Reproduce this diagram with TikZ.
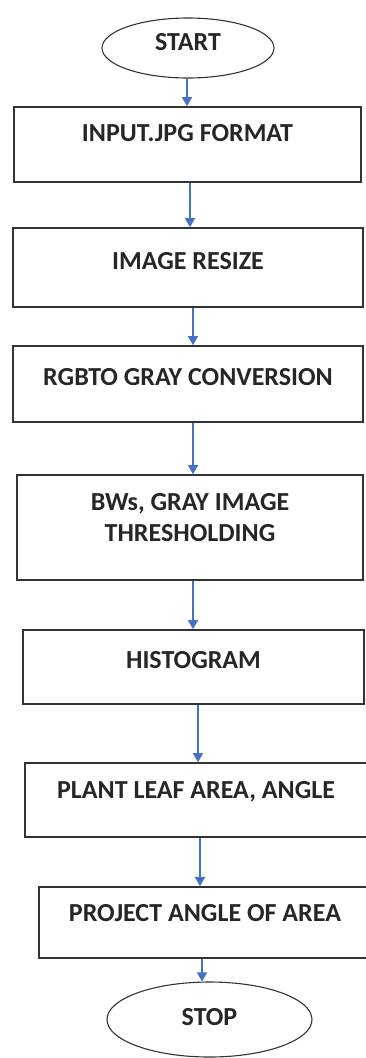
\documentclass[tikz,border=0pt]{standalone}
\usepackage{fontspec}
\setmainfont{Carlito}
\usepackage{xcolor}
\usetikzlibrary{shapes.geometric,arrows.meta}
\definecolor{flowblue}{HTML}{4472C4}

\begin{document}
\begin{tikzpicture}[x=1pt,y=-1pt,font=\fontsize{26}{31}\selectfont\bfseries,
  stepbox/.style={draw=black!80,line width=1.6pt,inner sep=0pt,align=center,
    text=black!85,text height=17pt,text depth=#1},
  stepbox/.default=20pt,
  term/.style={ellipse,draw=black!80,line width=1.1pt,inner sep=0pt,
    text=black!85,text height=17pt,text depth=#1},
  arr/.style={-{Triangle[length=9pt,width=10pt]},flowblue,line width=1.5pt}]
  \useasboundingbox (0,0) rectangle (365,1058);
  \node[term=13pt,minimum width=172pt,minimum height=60pt] (start) at (188,48) {START};
  \node[stepbox=23pt,minimum width=347pt,minimum height=75pt] (input) at (187.5,144.5) {INPUT.JPG FORMAT};
  \draw[arr] ([xshift=-1pt]start.south) -- ([xshift=-1pt]start.south |- input.north);
  \node[stepbox=13pt,minimum width=350pt,minimum height=79pt] (resize) at (188,267.5) {IMAGE RESIZE};
  \draw[arr] ([xshift=2.5pt]input.south) -- ([xshift=2.5pt]input.south |- resize.north);
  \node[stepbox=15pt,minimum width=350pt,minimum height=76pt] (gray) at (188,384) {RGBTO GRAY CONVERSION};
  \draw[arr] ([xshift=5pt]resize.south) -- ([xshift=5pt]resize.south |- gray.north);
  \node[stepbox=11pt,text height=39pt,minimum width=346pt,minimum height=105pt] (thresh) at (190,527.5) {BWs, GRAY IMAGE\\THRESHOLDING};
  \draw[arr] ([xshift=5pt]gray.south) -- ([xshift=5pt]gray.south |- thresh.north);
  \node[stepbox=15pt,minimum width=341pt,minimum height=74pt] (hist) at (193.5,667) {HISTOGRAM};
  \draw[arr] ([xshift=3pt]thresh.south) -- ([xshift=3pt]thresh.south |- hist.north);
  \node[stepbox=21pt,minimum width=342pt,minimum height=74pt] (leaf) at (196,800) {PLANT LEAF AREA, ANGLE};
  \draw[arr] ([xshift=4.5pt]hist.south) -- ([xshift=4.5pt]hist.south |- leaf.north);
  \node[stepbox=19pt,minimum width=332pt,minimum height=71pt] (proj) at (205,922.5) {PROJECT ANGLE OF AREA};
  \draw[arr] ([xshift=4pt]leaf.south) -- ([xshift=4pt]leaf.south |- proj.north);
  \node[term=5pt,minimum width=205pt,minimum height=75pt] (stop) at (209.5,1019.5) {STOP};
  \draw[arr] ([xshift=-3pt]proj.south) -- ([xshift=-3pt]proj.south |- stop.north);
\end{tikzpicture}
\end{document}
